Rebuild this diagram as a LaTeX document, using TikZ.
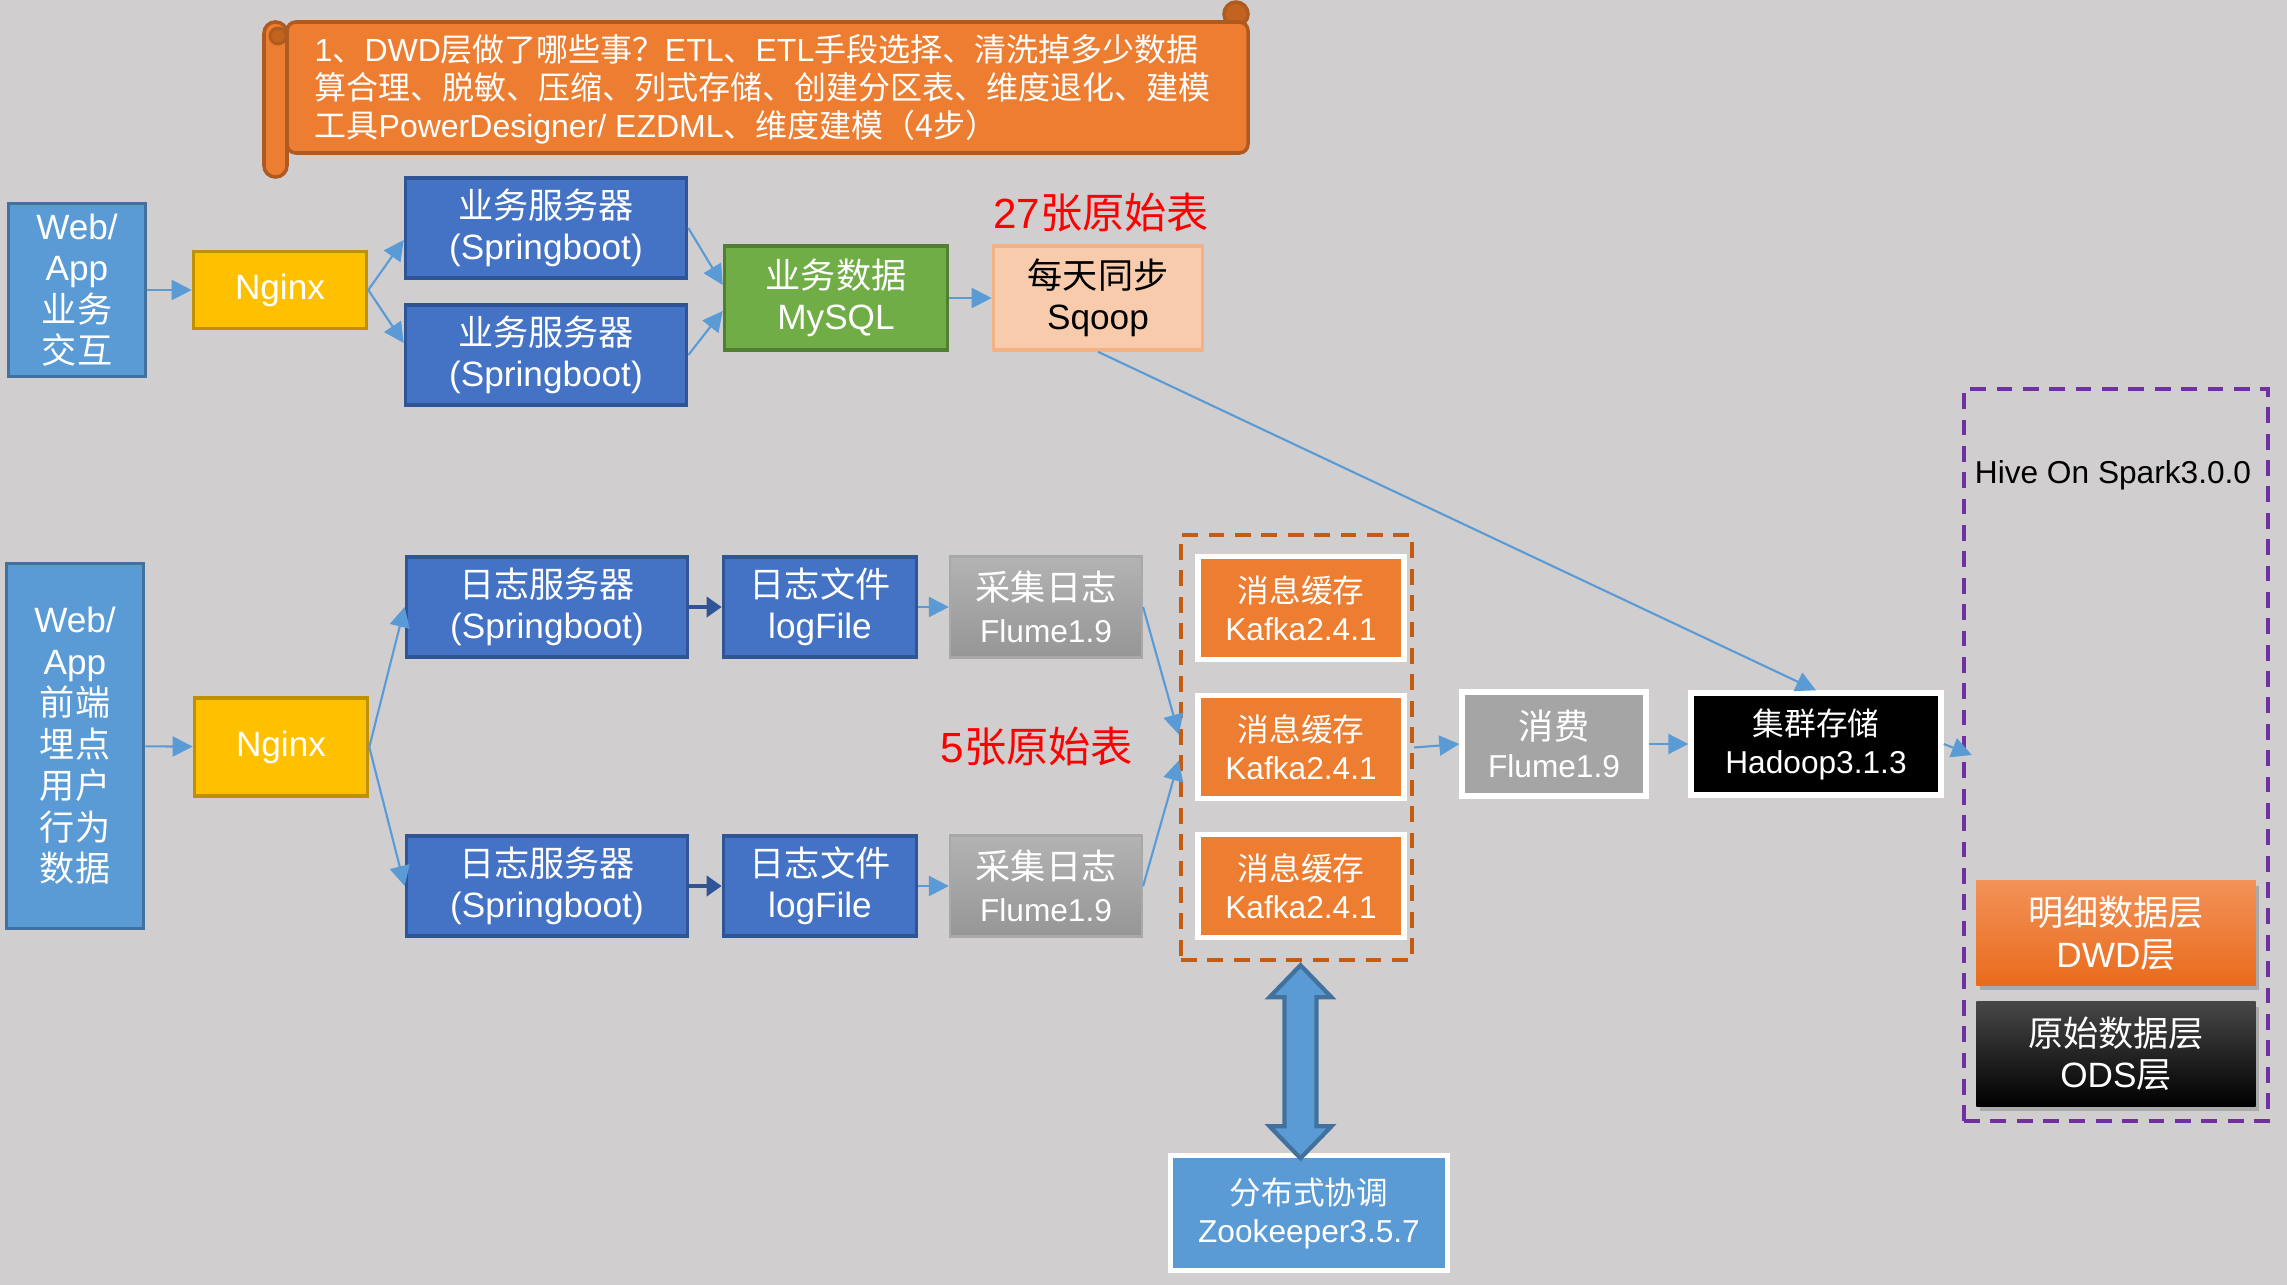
\documentclass[tikz,border=0pt]{standalone}
\usepackage{fontspec}
\setmainfont{Liberation Sans}
\newfontfamily\cjkfont{Noto Sans CJK SC}
\usetikzlibrary{arrows.meta,calc,shadows}

\definecolor{bggray}{HTML}{D0CECF}
\definecolor{lblue}{HTML}{5B9BD5}
\definecolor{lblueline}{HTML}{41719C}
\definecolor{ngxfill}{HTML}{FFC000}
\definecolor{ngxline}{HTML}{BF9000}
\definecolor{srvfill}{HTML}{4472C4}
\definecolor{srvline}{HTML}{2F5597}
\definecolor{dbfill}{HTML}{70AD47}
\definecolor{dbline}{HTML}{507E32}
\definecolor{sqfill}{HTML}{F8CBAD}
\definecolor{sqline}{HTML}{F4B183}
\definecolor{kfill}{HTML}{ED7D31}
\definecolor{kline}{HTML}{C55A11}
\definecolor{hiveline}{HTML}{7030A0}
\definecolor{fltop}{HTML}{B3B3B3}
\definecolor{flbot}{HTML}{969696}
\definecolor{flline}{HTML}{A8A8A8}
\definecolor{consfill}{HTML}{A5A5A5}
\definecolor{dwdtop}{HTML}{F29258}
\definecolor{dwdbot}{HTML}{E96B1C}
\definecolor{odstop}{HTML}{474747}
\definecolor{scrollline}{HTML}{AE5A21}
\definecolor{scrolldark}{HTML}{C2631F}

\newcommand{\bigtxt}{\fontsize{10}{11.8}\selectfont}
\newcommand{\smalltxt}{\fontsize{9}{10.8}\selectfont}

\begin{document}
\begin{tikzpicture}[x=0.01cm, y=-0.01cm,
    box/.style={draw, line width=1pt, text=white, align=center, inner sep=0pt, font=\bigtxt},
    webbox/.style={box, fill=lblue, draw=lblueline, minimum width=1.37cm},
    ngxbox/.style={box, fill=ngxfill, draw=ngxline, minimum width=1.73cm},
    srvbox/.style={box, fill=srvfill, draw=srvline, minimum width=2.81cm, minimum height=1cm},
    filebox/.style={srvbox, minimum width=1.93cm},
    dbbox/.style={box, fill=dbfill, draw=dbline, minimum width=2.23cm, minimum height=1.04cm},
    sqbox/.style={box, fill=sqfill, draw=sqline, text=black, minimum width=2.09cm, minimum height=1.04cm},
    flumebox/.style={box, line width=0.6pt, draw=flline, top color=fltop, bottom color=flbot, minimum width=1.92cm, minimum height=1.01cm},
    whitebox/.style={box, line width=1.5pt, draw=white, font=\smalltxt},
    kafkabox/.style={whitebox, fill=kfill, minimum width=2.06cm, minimum height=1.03cm},
    groupbox/.style={line width=1.2pt, dash pattern=on 4.5pt off 3pt, inner sep=0pt},
    layerbox/.style={box, draw=none, minimum width=2.79cm, minimum height=1.04cm, drop shadow={shadow xshift=1pt, shadow yshift=-1.5pt, opacity=0.45}},
    redtxt/.style={text=red, inner sep=0pt, font=\fontsize{12}{14}\selectfont},
    link/.style={draw=lblue, line width=0.6pt, -{Triangle[length=0.2cm, width=0.2cm]}},
    darklink/.style={draw=srvline, line width=1.4pt, -{Triangle[length=0.15cm, width=0.2cm]}}
  ]
  \useasboundingbox (0,0) rectangle (2287,1285);
  \fill[bggray] (0,0) rectangle (2287,1285);

  % scroll with the DWD notes
  \filldraw[fill=scrolldark, draw=scrollline, line width=1pt] (1236,14) circle (12);
  \filldraw[fill=kfill, draw=scrollline, line width=1pt, rounded corners=2.5pt] (287,22) rectangle (1248,153);
  \filldraw[fill=kfill, draw=scrollline, line width=1pt, rounded corners=3.2pt] (264,22) rectangle (287,177);
  \filldraw[fill=scrolldark, draw=scrollline, line width=0.8pt] (278,36) circle (8);
  \node[anchor=west, align=left, text=white, inner sep=0pt, font=\fontsize{9.1}{10.8}\selectfont] (dwdnote) at (314,89)
    {1{\cjkfont 、}DWD{\cjkfont 层做了哪些事？}ETL{\cjkfont 、}ETL{\cjkfont 手段选择、清洗掉多少数据}\\
     {\cjkfont 算合理、脱敏、压缩、列式存储、创建分区表、维度退化、建模}\\
     {\cjkfont 工具}PowerDesigner/ EZDML{\cjkfont 、维度建模（4步）}};

  % business data line
  \node[webbox, minimum height=1.73cm] (web1) at (77,290) {Web/\\App\\{\cjkfont 业务}\\{\cjkfont 交互}};
  \node[ngxbox, minimum height=0.77cm] (nginx1) at (280,290) {Nginx};
  \node[srvbox] (srv1) at (546,228) {{\cjkfont 业务服务器}\\(Springboot)};
  \node[srvbox] (srv2) at (546,355) {{\cjkfont 业务服务器}\\(Springboot)};
  \node[dbbox] (mysql) at (836,298) {{\cjkfont 业务数据}\\MySQL};
  \node[sqbox] (sqoop) at (1098,298) {{\cjkfont 每天同步}\\Sqoop};
  \node[redtxt] (raw27) at (1101,213) {27{\cjkfont 张原始表}};

  % user behaviour log line
  \node[webbox, minimum height=3.65cm] (web2) at (75,746) {Web/\\App\\{\cjkfont 前端}\\{\cjkfont 埋点}\\{\cjkfont 用户}\\{\cjkfont 行为}\\{\cjkfont 数据}};
  \node[ngxbox, minimum height=0.98cm] (nginx2) at (281,747) {Nginx};
  \node[srvbox] (log1) at (547,607) {{\cjkfont 日志服务器}\\(Springboot)};
  \node[srvbox] (log2) at (547,886) {{\cjkfont 日志服务器}\\(Springboot)};
  \node[filebox] (file1) at (820,607) {{\cjkfont 日志文件}\\logFile};
  \node[filebox] (file2) at (820,886) {{\cjkfont 日志文件}\\logFile};
  \node[flumebox] (flume1) at (1046,607) {{\cjkfont 采集日志}\\{\smalltxt Flume1.9}};
  \node[flumebox] (flume2) at (1046,886) {{\cjkfont 采集日志}\\{\smalltxt Flume1.9}};
  \node[redtxt] (raw5) at (1037,747) {5{\cjkfont 张原始表}};

  % kafka cluster
  \node[groupbox, draw=kline, minimum width=2.31cm, minimum height=4.25cm] (kafkagrp) at (1296.5,747.5) {};
  \node[kafkabox] (kafka1) at (1301,608) {{\cjkfont 消息缓存}\\Kafka2.4.1};
  \node[kafkabox] (kafka2) at (1301,747) {{\cjkfont 消息缓存}\\Kafka2.4.1};
  \node[kafkabox] (kafka3) at (1301,886) {{\cjkfont 消息缓存}\\Kafka2.4.1};
  \node[whitebox, fill=lblue, minimum width=2.77cm, minimum height=1.15cm] (zk) at (1309,1213) {{\cjkfont 分布式协调}\\Zookeeper3.5.7};

  \node[whitebox, fill=consfill, minimum width=1.84cm, minimum height=1.04cm] (consume) at (1554,744) {{\cjkfont\bigtxt 消费}\\Flume1.9};
  \node[whitebox, fill=black, minimum width=2.5cm, minimum height=1.02cm] (hadoop) at (1816,744) {{\cjkfont 集群存储}\\Hadoop3.1.3};

  % hive on spark
  \node[groupbox, draw=hiveline, minimum width=3.04cm, minimum height=7.32cm] (hivegrp) at (2116,755) {};
  \node[inner sep=0pt, font=\smalltxt] (hivelbl) at (2113,475) {Hive On Spark3.0.0};
  \node[layerbox, top color=dwdtop, bottom color=dwdbot] (dwd) at (2116,933) {{\cjkfont 明细数据层}\\DWD{\cjkfont 层}};
  \node[layerbox, top color=odstop, middle color=black, bottom color=black] (ods) at (2116,1054) {{\cjkfont 原始数据层}\\ODS{\cjkfont 层}};

  % arrows
  \draw[link] (web1) -- (nginx1);
  \draw[link] (nginx1.east) -- ($(srv1.west)+(0,12)$);
  \draw[link] (nginx1.east) -- ($(srv2.west)+(0,-12)$);
  \draw[link] (srv1.east) -- ($(mysql.west)+(0,-13)$);
  \draw[link] (srv2.east) -- ($(mysql.west)+(0,13)$);
  \draw[link] (mysql) -- (sqoop);
  \draw[link] (sqoop.south) -- (hadoop.north);

  \draw[link] (web2) -- (nginx2);
  \draw[link] (nginx2.east) -- (log1.west);
  \draw[link] (nginx2.east) -- (log2.west);
  \draw[darklink] (log1) -- (file1);
  \draw[darklink] (log2) -- (file2);
  \draw[link] (file1) -- (flume1);
  \draw[link] (file2) -- (flume2);
  \draw[link] (flume1.east) -- ($(kafkagrp.west)+(0,-13)$);
  \draw[link] (flume2.east) -- ($(kafkagrp.west)+(0,13)$);
  \draw[link] (kafkagrp.east) -- (consume.west);
  \draw[link] (consume) -- (hadoop);
  \draw[link] (hadoop.east) -- ($(hivegrp.west)+(10,0)$);

  % zookeeper double arrow
  \draw[fill=lblue, draw=lblueline, line width=1.2pt] ($(kafkagrp.south)+(4,3)$) -- ++(31,32) -- ++(-15,0) -- ++(0,129)
    -- ++(15,0) -- ++(-31,32) -- ++(-31,-32) -- ++(15,0) -- ++(0,-129) -- ++(-15,0) -- cycle;
\end{tikzpicture}
\end{document}
